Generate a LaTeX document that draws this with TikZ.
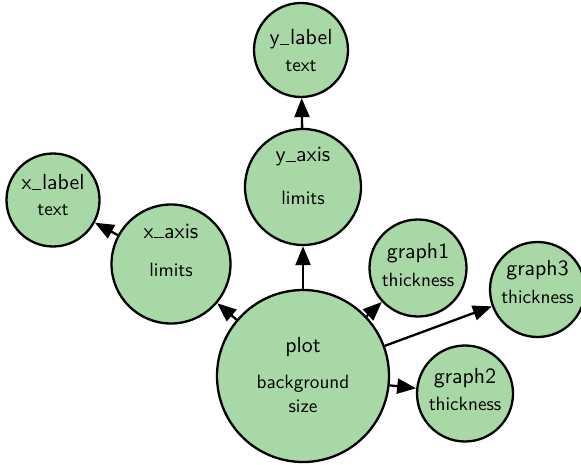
\documentclass[tikz,border=0pt]{standalone}
\usetikzlibrary{arrows.meta}
\definecolor{nodegreen}{RGB}{168,216,165}
% short low bar between words of a name
\newcommand{\usc}{\kern0.03em\rule[-0.01em]{0.42em}{0.075em}\kern0.03em}
\tikzset{
  entity/.style={circle, draw=black, line width=1.15pt, fill=nodegreen,
                 inner sep=0pt, minimum size=#1},
  title/.style={anchor=base, inner sep=0pt, font=\sffamily\fontsize{10.9}{13}\selectfont},
  attr/.style={anchor=base, inner sep=0pt, font=\sffamily\fontsize{9.6}{11}\selectfont},
  link/.style={line width=1.15pt, -{Triangle[length=9.5pt,width=7.5pt]}}
}
\begin{document}
\begin{tikzpicture}[x=0.5pt,y=-0.5pt]
\useasboundingbox (0,0) rectangle (581,464);
% entity circles (diameter in pt = radius in px)
\node[entity=86pt]   (plot)   at (303,376)   {};
\node[entity=59.5pt] (xaxis)  at (171,264)   {};
\node[entity=58pt]   (yaxis)  at (303,187)   {};
\node[entity=47pt]   (ylabel) at (301,50)    {};
\node[entity=46.5pt] (xlabel) at (53,200)    {};
\node[entity=48.5pt] (graph1) at (418,268)   {};
\node[entity=47.5pt] (graph3) at (537.5,289.5) {};
\node[entity=48pt]   (graph2) at (465,393.5) {};
% relations
\draw[link] (plot)  -- (xaxis);
\draw[link] (plot)  -- (yaxis);
\draw[link] (plot)  -- (graph1);
\draw[link] (plot)  -- (graph3);
\draw[link] (plot)  -- (graph2);
\draw[link] (xaxis) -- (xlabel);
\draw[link] (yaxis) -- (ylabel);
% names and attributes
\node[title] (plot-t)   at (303,352)   {plot};
\node[attr]  (plot-a1)  at (303,388)   {background};
\node[attr]  (plot-a2)  at (303,412)   {size};
\node[title] (xaxis-t)  at (171,238)   {x\usc axis};
\node[attr]  (xaxis-a)  at (171,276)   {limits};
\node[title] (yaxis-t)  at (303,162)   {y\usc axis};
\node[attr]  (yaxis-a)  at (303,205)   {limits};
\node[title] (ylabel-t) at (301,45)    {y\usc label};
\node[attr]  (ylabel-a) at (301,72)    {text};
\node[title] (xlabel-t) at (53,190)    {x\usc label};
\node[attr]  (xlabel-a) at (53,215)    {text};
\node[title] (graph1-t) at (418,258)   {graph1};
\node[attr]  (graph1-a) at (418,286)   {thickness};
\node[title] (graph3-t) at (537.5,275) {graph3};
\node[attr]  (graph3-a) at (537.5,303) {thickness};
\node[title] (graph2-t) at (465,383)   {graph2};
\node[attr]  (graph2-a) at (465,410)   {thickness};
\end{tikzpicture}
\end{document}
